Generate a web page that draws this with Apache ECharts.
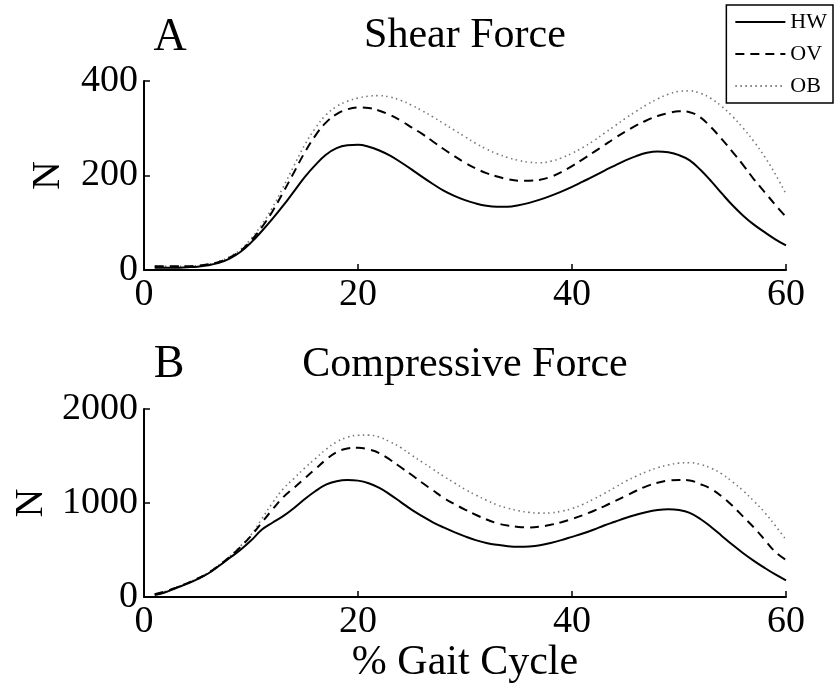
<!DOCTYPE html>
<html>
<head>
<meta charset="utf-8">
<script src="https://cdn.jsdelivr.net/npm/echarts@6/dist/echarts.min.js"></script>
<style>html,body{margin:0;padding:0;background:#fff}#c{width:836px;height:686px}</style>
</head>
<body>
<div id="c"></div>
<script>
// % gait cycle sample positions
const gaitPct = [1,2,3,4,5,6,7,8,9,10,11,12,13,14,15,16,17,18,19,20,21,22,23,24,25,26,27,28,29,30,
                 31,32,33,34,35,36,37,38,39,40,41,42,43,44,45,46,47,48,49,50,51,52,53,54,55,56,57,58,59,60];
// Panel A: Shear force (N)
const shearHW = [5,5,5,6,7,10,15,24,38,58, 82,108,136,166,196,222,244,258,264,265,
                 261,253,242,228,213,197,182,168,157,148, 141,136,134,134,137,142,149,157,166,176,
                 187,198,210,221,232,241,248,251,249,243, 232,212,188,162,137,115,96,80,65,52];
const shearOV = [8,8,8,8,9,12,17,26,40,62, 90,124,164,206,248,284,312,330,340,344,
                 343,337,328,316,302,288,272,256,241,227, 215,205,198,192,189,189,191,197,207,220,
                 234,249,264,279,293,306,317,326,332,336, 334,323,302,277,250,222,192,165,138,112];
const shearOB = [8,8,8,8,9,12,18,28,43,66, 96,132,175,220,264,300,328,346,357,364,
                 368,369,366,359,349,337,324,310,296,282, 268,256,246,238,232,228,227,230,237,247,
                 259,273,289,305,321,336,350,362,372,378, 379,374,363,346,325,300,272,240,203,161];
// Panel B: Compressive force (N)
const compHW = [20,50,95,140,190,250,330,415,500,600, 715,790,860,945,1040,1125,1195,1232,1245,1238,
                1210,1160,1090,1010,930,860,795,740,690,645, 605,575,555,541,535,538,550,575,605,640,
                675,715,760,800,840,875,905,925,933,925, 895,830,745,650,555,466,385,310,240,178];
const compOV = [30,60,100,145,195,255,335,425,530,650, 790,930,1060,1160,1260,1360,1460,1540,1580,1588,
                1570,1530,1460,1380,1300,1215,1135,1055,990,930, 875,825,785,760,745,740,748,768,795,830,
                870,915,965,1020,1075,1130,1180,1215,1238,1246, 1240,1200,1150,1070,970,855,740,610,480,395];
const compOB = [30,60,100,145,200,260,340,430,540,660, 830,1000,1150,1260,1370,1470,1570,1650,1700,1720,
                1722,1700,1650,1590,1510,1435,1360,1285,1215,1145, 1085,1030,980,945,918,900,892,895,912,940,
                985,1040,1100,1165,1230,1285,1335,1375,1405,1424, 1428,1410,1370,1310,1225,1130,1020,900,760,610];
const seriesNames = ['HW','OV','OB'];
const xTicks = [0,20,40,60];
const shearTicks = [0,200,400];
const compTicks = [0,1000,2000];
const panelTitles = ['Shear Force','Compressive Force'];
const panelLetters = ['A','B'];
const xLabel = '% Gait Cycle';
const yLabel = 'N';

const FONT = "'Liberation Serif','DejaVu Serif',serif";
const styles = [
  {color:'#000', width:2, type:'solid'},
  {color:'#000', width:2, type:[9,6]},
  {color:'#777', width:1.6, type:[1.5,3.5]}
];
function pairs(v){ return v.map((y,i)=>[gaitPct[i], y]); }
function mkSeries(name, data, grid, idx){
  return {type:'line', name, xAxisIndex:grid, yAxisIndex:grid, data:pairs(data),
    showSymbol:false, symbol:'none', smooth:0.4, lineStyle:styles[idx], itemStyle:{color:styles[idx].color}, z: 3-idx};
}
const axisCommon = {
  axisLine:{show:true, onZero:false, lineStyle:{color:'#000', width:2}},
  axisTick:{show:true, inside:true, length:6, lineStyle:{color:'#000', width:1.5}},
  splitLine:{show:false},
  axisLabel:{color:'#000', fontFamily:FONT, fontSize:38, formatter:v=>String(v)}
};
function xAx(grid, withName){
  return Object.assign({}, axisCommon, {type:'value', gridIndex:grid, min:xTicks[0], max:xTicks[xTicks.length-1], interval:20,
    axisLabel:Object.assign({}, axisCommon.axisLabel, {margin:6}),
    name: withName ? xLabel : '', nameLocation:'middle', nameGap:43,
    nameTextStyle:{color:'#000', fontFamily:FONT, fontSize:42}});
}
function yAx(grid, ticks){
  return Object.assign({}, axisCommon, {type:'value', gridIndex:grid, min:ticks[0], max:ticks[ticks.length-1], interval:ticks[1]-ticks[0],
    axisLabel:Object.assign({}, axisCommon.axisLabel, {margin:6}),
    name:yLabel, nameLocation:'middle', nameGap:76,
    nameTextStyle:{color:'#000', fontFamily:FONT, fontSize:40}});
}
const chart = echarts.init(document.getElementById('c'), null, {renderer:'canvas'});
chart.setOption({
  animation:false,
  backgroundColor:'#fff',
  grid:[
    {left:144, top:81, width:642, height:189, containLabel:false, outerBoundsMode:'none'},
    {left:144, top:409, width:642, height:188, containLabel:false, outerBoundsMode:'none'}
  ],
  xAxis:[xAx(0,false), xAx(1,true)],
  yAxis:[yAx(0,shearTicks), yAx(1,compTicks)],
  legend:{data:seriesNames, orient:'vertical', right:3, top:5, itemWidth:50, itemHeight:20, itemGap:10,
    padding:[6,6,6,8], borderColor:'#000', borderWidth:1.5, backgroundColor:'#fff',
    itemStyle:{opacity:0, borderWidth:0},
    textStyle:{color:'#000', fontFamily:FONT, fontSize:22}},
  graphic:[
    {type:'text', x:465, y:36, style:{text:panelTitles[0], font:"42px "+FONT, fill:'#000', textAlign:'center', textVerticalAlign:'middle'}},
    {type:'text', x:465, y:365, style:{text:panelTitles[1], font:"42px "+FONT, fill:'#000', textAlign:'center', textVerticalAlign:'middle'}},
    {type:'text', x:170, y:38, style:{text:panelLetters[0], font:"46px "+FONT, fill:'#000', textAlign:'center', textVerticalAlign:'middle'}},
    {type:'text', x:169, y:365, style:{text:panelLetters[1], font:"46px "+FONT, fill:'#000', textAlign:'center', textVerticalAlign:'middle'}}
  ],
  series:[
    mkSeries('HW', shearHW, 0, 0), mkSeries('OV', shearOV, 0, 1), mkSeries('OB', shearOB, 0, 2),
    mkSeries('HW', compHW, 1, 0), mkSeries('OV', compOV, 1, 1), mkSeries('OB', compOB, 1, 2)
  ]
});
</script>
</body>
</html>
